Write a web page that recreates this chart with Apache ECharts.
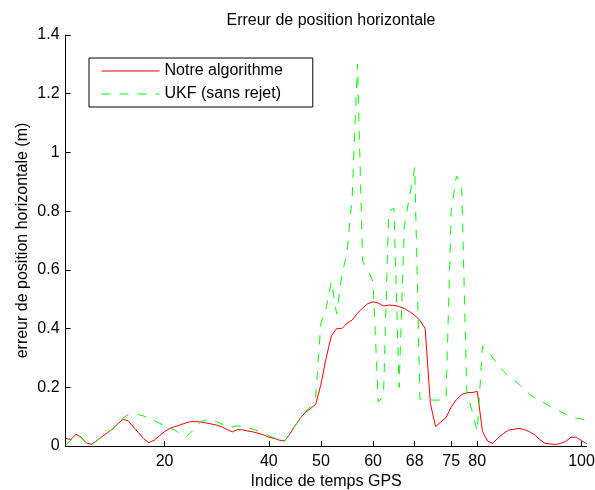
<!DOCTYPE html>
<html>
<head>
<meta charset="utf-8">
<script src="https://cdn.jsdelivr.net/npm/echarts@6/dist/echarts.min.js"></script>
<style>
html,body{margin:0;padding:0;background:#fff;}
#chart{width:595px;height:490px;}
</style>
</head>
<body>
<div id="chart"></div>
<script>
// GPS time index of the first sample (samples are consecutive indices)
const firstIndex = 1;

const xTickValues = [20, 40, 50, 60, 68, 75, 80, 100];
const yMin = 0, yMax = 1.4, yStep = 0.2;

const seriesNames = ['Notre algorithme', 'UKF (sans rejet)'];

// Horizontal position error (m), "Notre algorithme", indices 1..101
const notreAlgo = [
  0.026, 0.022, 0.040, 0.030, 0.010, 0.006, 0.018, 0.032, 0.045, 0.058,
  0.075, 0.091, 0.086, 0.065, 0.045, 0.025, 0.011, 0.020, 0.035, 0.049,
  0.060, 0.066, 0.072, 0.078, 0.083, 0.083, 0.082, 0.078, 0.075, 0.071,
  0.065, 0.056, 0.048, 0.056, 0.055, 0.051, 0.048, 0.043, 0.038, 0.030,
  0.026, 0.020, 0.017, 0.040, 0.068, 0.094, 0.114, 0.128, 0.142, 0.210,
  0.300, 0.375, 0.400, 0.400, 0.418, 0.429, 0.452, 0.470, 0.485, 0.491,
  0.487, 0.477, 0.480, 0.479, 0.475, 0.468, 0.458, 0.445, 0.428, 0.400,
  0.145, 0.066, 0.082, 0.097, 0.132, 0.158, 0.175, 0.182, 0.182, 0.186,
  0.050, 0.016, 0.009, 0.028, 0.042, 0.054, 0.057, 0.060, 0.056, 0.049,
  0.038, 0.022, 0.009, 0.007, 0.005, 0.009, 0.016, 0.030, 0.030, 0.018,
  0.008
];

// Horizontal position error (m), "UKF (sans rejet)", indices 1..101
const ukfSansRejet = [
  0.003, 0.020, 0.038, 0.028, 0.010, 0.006, 0.018, 0.032, 0.045, 0.058,
  0.075, 0.095, 0.107, 0.108, 0.107, 0.102, 0.094, 0.086, 0.078, 0.068,
  0.062, 0.054, 0.040, 0.030, 0.045, 0.065, 0.083, 0.089, 0.088, 0.083,
  0.075, 0.066, 0.066, 0.068, 0.067, 0.062, 0.057, 0.051, 0.045, 0.035,
  0.028, 0.022, 0.017, 0.040, 0.068, 0.094, 0.117, 0.135, 0.170, 0.420,
  0.470, 0.560, 0.450, 0.580, 0.660, 0.850, 1.300, 0.630, 0.600, 0.560,
  0.150, 0.170, 0.800, 0.810, 0.200, 0.750, 0.850, 0.950, 0.160, 0.158,
  0.157, 0.156, 0.157, 0.160, 0.800, 0.920, 0.890, 0.180, 0.120, 0.050,
  0.340, 0.325, 0.300, 0.275, 0.255, 0.238, 0.225, 0.210, 0.192, 0.177,
  0.165, 0.155, 0.145, 0.135, 0.126, 0.118, 0.108, 0.100, 0.095, 0.092,
  0.088
];

const toPairs = arr => arr.map((v, i) => [firstIndex + i, v]);

const FONT = '"Liberation Sans", Arial, Helvetica, sans-serif';

const chart = echarts.init(document.getElementById('chart'), null, {renderer: 'canvas'});
chart.setOption({
  animation: false,
  backgroundColor: '#ffffff',
  title: {
    text: 'Erreur de position horizontale',
    left: 326, textAlign: 'center', top: 8,
    textStyle: {fontFamily: FONT, fontSize: 16, fontWeight: 'normal', color: '#000', lineHeight: 16}
  },
  legend: {
    left: 89, top: 58,
    orient: 'vertical',
    data: seriesNames,
    itemWidth: 58, itemHeight: 14, itemGap: 7,
    padding: [5, 30, 5, 12],
    borderColor: '#000', borderWidth: 1,
    backgroundColor: '#fff',
    itemStyle: {opacity: 0},
    lineStyle: {width: 1},
    textStyle: {fontFamily: FONT, fontSize: 16, color: '#000', lineHeight: 16}
  },
  grid: {left: 65.6, right: 8.3, top: 35, bottom: 44, containLabel: false, outerBoundsMode: 'none'},
  xAxis: {
    type: 'value',
    min: firstIndex, max: firstIndex + notreAlgo.length - 1,
    name: 'Indice de temps GPS',
    nameLocation: 'middle', nameGap: 28, nameMoveOverlap: false,
    nameTextStyle: {fontFamily: FONT, fontSize: 16, color: '#000'},
    axisLine: {show: true, onZero: false, lineStyle: {color: '#000', width: 1}},
    axisTick: {show: true, inside: true, length: 5, customValues: xTickValues, lineStyle: {color: '#000'}},
    axisLabel: {show: true, margin: 8, customValues: xTickValues, fontFamily: FONT, fontSize: 16, color: '#000'},
    splitLine: {show: false}
  },
  yAxis: {
    type: 'value',
    min: yMin, max: yMax, interval: yStep,
    name: 'erreur de position horizontale (m)',
    nameLocation: 'middle', nameGap: 35, nameMoveOverlap: false,
    nameTextStyle: {fontFamily: FONT, fontSize: 16, color: '#000'},
    axisLine: {show: true, lineStyle: {color: '#000', width: 1}},
    axisTick: {show: true, inside: true, length: 5, lineStyle: {color: '#000'}},
    axisLabel: {margin: 6, fontFamily: FONT, fontSize: 16, color: '#000',
      formatter: v => String(Math.round(v * 10) / 10)},
    splitLine: {show: false}
  },
  series: [
    {
      name: seriesNames[0], type: 'line', data: toPairs(notreAlgo),
      showSymbol: false, symbol: 'none',
      lineStyle: {color: '#ff0000', width: 1},
      itemStyle: {color: '#ff0000'}
    },
    {
      name: seriesNames[1], type: 'line', data: toPairs(ukfSansRejet),
      showSymbol: false, symbol: 'none',
      lineStyle: {color: '#00ff00', width: 1, type: [9, 9]},
      itemStyle: {color: '#00ff00'}
    }
  ]
});
</script>
</body>
</html>
